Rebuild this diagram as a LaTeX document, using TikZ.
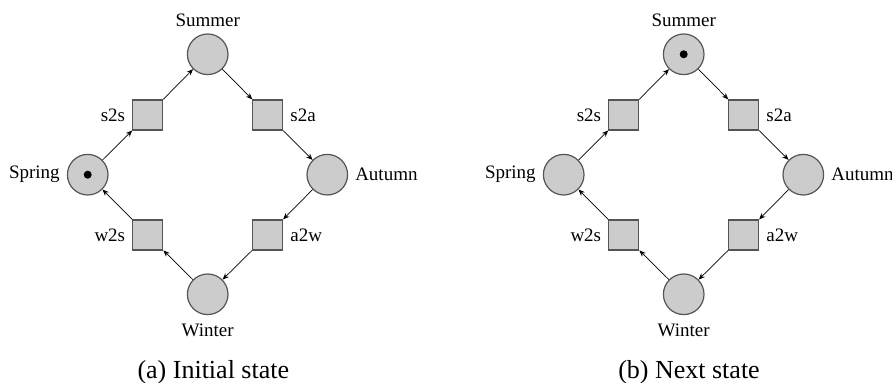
\documentclass[tikz,border=0pt]{standalone}
\usepackage{fontspec}
\setmainfont{Liberation Serif}
\usetikzlibrary{arrows.meta}
\definecolor{pfill}{HTML}{CCCCCC}
\definecolor{pline}{HTML}{555555}
\tikzset{
  place/.style={circle, draw=pline, fill=pfill, line width=0.6pt, minimum size=20.3pt, inner sep=0pt},
  trans/.style={rectangle, draw=pline, fill=pfill, line width=0.6pt, minimum size=15pt, inner sep=0pt},
  lbl/.style={font=\fontsize{9.5}{11}\selectfont, label distance=0pt},
  blbl/.style={font=\fontsize{9.5}{11}\selectfont, label distance=0.8pt},
  tok/.style={circle, fill=black, minimum size=4pt, inner sep=0pt},
  arcline/.style={-{Stealth[length=3.2pt,width=2.6pt]}, line width=0.35pt, black},
  captext/.style={font=\fontsize{13}{15}\selectfont}
}
\begin{document}
\begin{tikzpicture}[x=0.5pt,y=-0.5pt]
\useasboundingbox (0,0) rectangle (892,383);
% ---------- (a) ----------
\begin{scope}
\node[place, label={[lbl]above:Summer}] (aSu) at (207.7,54.3) {};
\node[place, label={[lbl]left:Spring}] (aSp) at (87.7,174.7) {};
\node[place, label={[lbl]right:Autumn}] (aAu) at (327.3,174.7) {};
\node[place, label={[blbl]below:Winter}] (aWi) at (207.7,294.3) {};
\node[tok] (aTok) at (aSp) {};
\node[trans, label={[lbl]left:s2s}] (aT1) at (147.8,115) {};
\node[trans, label={[lbl]right:s2a}] (aT2) at (267.7,115) {};
\node[trans, label={[lbl]left:w2s}] (aT3) at (147.8,235) {};
\node[trans, label={[lbl]right:a2w}] (aT4) at (267.7,235) {};
\draw[arcline] (aSp) -- (aT1);
\draw[arcline] (aT1) -- (aSu);
\draw[arcline] (aSu) -- (aT2);
\draw[arcline] (aT2) -- (aAu);
\draw[arcline] (aAu) -- (aT4);
\draw[arcline] (aT4) -- (aWi);
\draw[arcline] (aWi) -- (aT3);
\draw[arcline] (aT3) -- (aSp);
\node[captext] (aCap) at (213.3,372) {(a) Initial state};
\end{scope}
% ---------- (b) ----------
\begin{scope}[xshift=238pt]
\node[place, label={[lbl]above:Summer}] (bSu) at (207.7,54.3) {};
\node[place, label={[lbl]left:Spring}] (bSp) at (87.7,174.7) {};
\node[place, label={[lbl]right:Autumn}] (bAu) at (327.3,174.7) {};
\node[place, label={[blbl]below:Winter}] (bWi) at (207.7,294.3) {};
\node[tok] (bTok) at (bSu) {};
\node[trans, label={[lbl]left:s2s}] (bT1) at (147.8,115) {};
\node[trans, label={[lbl]right:s2a}] (bT2) at (267.7,115) {};
\node[trans, label={[lbl]left:w2s}] (bT3) at (147.8,235) {};
\node[trans, label={[lbl]right:a2w}] (bT4) at (267.7,235) {};
\draw[arcline] (bSp) -- (bT1);
\draw[arcline] (bT1) -- (bSu);
\draw[arcline] (bSu) -- (bT2);
\draw[arcline] (bT2) -- (bAu);
\draw[arcline] (bAu) -- (bT4);
\draw[arcline] (bT4) -- (bWi);
\draw[arcline] (bWi) -- (bT3);
\draw[arcline] (bT3) -- (bSp);
\node[captext] (bCap) at (213,372) {(b) Next state};
\end{scope}
\end{tikzpicture}
\end{document}
